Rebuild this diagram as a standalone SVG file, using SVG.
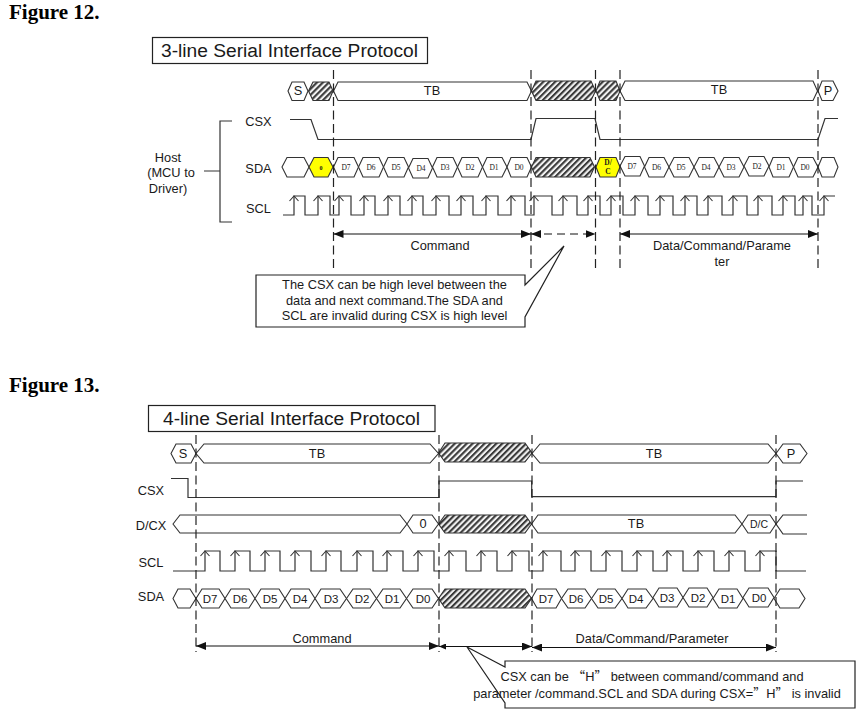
<svg xmlns="http://www.w3.org/2000/svg" width="863" height="716" viewBox="0 0 863 716">
<style>
text{font-family:"Liberation Sans",Arial,sans-serif;font-size:12.800px;fill:#1a1a1a;text-anchor:middle}
.w{fill:none;stroke:#333;stroke-width:1.2}
.h{fill:#fff;stroke:#333;stroke-width:1.1}
.y{fill:#ffff00;stroke:#333;stroke-width:1.1}
.x{fill:url(#hatch);stroke:#333;stroke-width:1.1}
.d{fill:none;stroke:#222;stroke-width:1.2;stroke-dasharray:9 4.500}
.a{fill:none;stroke:#111;stroke-width:1.2}
.b{fill:#fff;stroke:#222;stroke-width:1.2}
.fig{font-family:"Liberation Serif",serif;font-weight:bold;font-size:21px;text-anchor:start;fill:#000}
.t{font-size:19.200px}
.s{font-family:"Liberation Serif",serif;font-size:7.500px}
.m{font-size:11.500px}
.q{font-family:"Noto Sans CJK SC",sans-serif}
</style>
<defs>
<pattern id="hatch" width="4.2" height="4.2" patternUnits="userSpaceOnUse" patternTransform="rotate(45)"><rect width="4.2" height="4.2" fill="#f2f2f2"/><rect width="2.1" height="4.2" fill="#3a3a3a"/></pattern>
<path id="chev" d="M-4.500 5L0 0L4.500 5" fill="none" stroke="#333" stroke-width="1.1"/>
<marker id="ae" markerWidth="11" markerHeight="8" refX="10" refY="4" orient="auto-start-reverse" markerUnits="userSpaceOnUse"><path d="M0 0L10 4L0 8Z" fill="#111"/></marker>
<marker id="as" markerWidth="8" markerHeight="6" refX="7" refY="3" orient="auto-start-reverse" markerUnits="userSpaceOnUse"><path d="M0 0L7 3L0 6Z" fill="#111"/></marker>
</defs>
<rect width="863" height="716" fill="#fff"/>
<text class="fig" x="9" y="19">Figure 12.</text>
<text class="fig" x="9" y="392">Figure 13.</text>

<g id="fig12-title"><rect class="b" x="152.500" y="37.500" width="275" height="26"/><text class="t" x="289.500" y="56.500">3-line Serial Interface Protocol</text></g>
<g id="fig12-host"><text x="168" y="162">Host</text><text x="171" y="177">(MCU to</text><text x="168" y="193">Driver)</text><path class="w" d="M204 171H220M232 121H220V222H232"/></g>
<g id="fig12-labels"><text x="258.500" y="126">CSX</text><text x="258.500" y="173">SDA</text><text x="258.500" y="213">SCL</text></g>

<g id="fig12-row1">
<path class="h" d="M288 91L292 82H304L308 91L304 100.500H292Z"/><text x="298" y="95">S</text>
<path class="x" d="M308.500 91L313 82H329L333 91L329 100.500H313Z"/>
<path class="h" d="M333.500 91L338 82H527L531.500 91L527 100.500H338Z"/><text x="432" y="95">TB</text>
<path class="x" d="M531.500 91L536 81H591L595.500 91L591 100.500H536Z"/>
<path class="x" d="M596 91L600 81H616L620 91L616 100.500H600Z"/>
<path class="h" d="M620 91L625 81H813L817.500 91L813 100.500H625Z"/><text x="719" y="94">TB</text>
<path class="h" d="M818 91L822 81H833L838 91L833 100.500H822Z"/><text x="828" y="95">P</text>
</g>
<g id="fig12-csx"><path class="w" d="M290 119.500H311L318 139.500H531L536 118.500H595L600 139.500H818L825 118.500H838"/></g>
<g id="fig12-sda">
<path class="h" d="M282 167L287 157.500H304L309 167L304 177H287Z"/>
<path class="y" d="M309 167L314 157.500H328L333 167L328 177H314Z"/><text class="s" x="321" y="170" style="font-size:6px;font-weight:bold">0</text>
<path class="h" d="M333.500 167L338 157.500H354L358.500 167L354 177H338Z"/><text class="s" x="346" y="170">D7</text>
<path class="h" d="M358.500 167L363 157.500H379L383.500 167L379 177H363Z"/><text class="s" x="371" y="170">D6</text>
<path class="h" d="M383.500 167L388 157.500H404L408.500 167L404 177H388Z"/><text class="s" x="396" y="170">D5</text>
<path class="h" d="M408.500 168L413 158.500H428L432.500 168L428 178H413Z"/><text class="s" x="421" y="171">D4</text>
<path class="h" d="M432.500 167L437 157.500H453L457.500 167L453 177H437Z"/><text class="s" x="445" y="170">D3</text>
<path class="h" d="M457.500 167L462 157.500H478L482.500 167L478 177H462Z"/><text class="s" x="470" y="170">D2</text>
<path class="h" d="M482.500 167L487 157.500H502L507 167L502 177H487Z"/><text class="s" x="494" y="170">D1</text>
<path class="h" d="M507 167L511 157.500H527L531.500 167L527 177H511Z"/><text class="s" x="519" y="170">D0</text>
<path class="x" d="M531.500 167L536 157.500H590L594.500 167L590 177H536Z"/>
<path class="y" d="M596 167L600 157.500H616L620 167L616 177H600Z"/><text class="s" x="608" y="165" style="font-weight:bold">D/</text><text class="s" x="608" y="174" style="font-weight:bold">C</text>
<path class="h" d="M620 166L625 156.500H640L644.500 166L640 176H625Z"/><text class="s" x="632" y="169">D7</text>
<path class="h" d="M644.500 167L649 157.500H664L669 167L664 177H649Z"/><text class="s" x="656.500" y="170">D6</text>
<path class="h" d="M669 167L674 157.500H689L694 167L689 177H674Z"/><text class="s" x="681" y="170">D5</text>
<path class="h" d="M694 167L699 157.500H714L719 167L714 177H699Z"/><text class="s" x="706" y="170">D4</text>
<path class="h" d="M719 167L724 157.500H739L744 167L739 177H724Z"/><text class="s" x="731" y="170">D3</text>
<path class="h" d="M744 166L749 156.500H764L769 166L764 176H749Z"/><text class="s" x="757" y="169">D2</text>
<path class="h" d="M769 167L773 157.500H789L793.500 167L789 177H773Z"/><text class="s" x="781" y="170">D1</text>
<path class="h" d="M793.500 167L798 157.500H813L818 167L813 177H798Z"/><text class="s" x="805" y="170">D0</text>
<path class="h" d="M818 167L822 157.500H834L838 167L834 177H822Z"/>
</g>
<g id="fig12-scl"><path class="w" d="M283 215H294V196H305V215H318V196H330V215H339V196H351V215H364V196H375V215H388V196H400V215H412V196H423V215H436V196H449V215H461V196H473V215H486V196H498V215H511V196H525V215H534V196H552V215H563V196H577V215H588V196H600V215H611V196H623V215H635V196H648V215H660V196H673V215H685V196H697V215H708V196H722V215H733V196H747V215H758V196H772V215H783V196H795V215H803V196H812V215H824V196H835"/>
<use href="#chev" x="294" y="196"/><use href="#chev" x="318" y="196"/><use href="#chev" x="339" y="196"/><use href="#chev" x="364" y="196"/><use href="#chev" x="388" y="196"/><use href="#chev" x="412" y="196"/><use href="#chev" x="436" y="196"/><use href="#chev" x="461" y="196"/><use href="#chev" x="486" y="196"/><use href="#chev" x="511" y="196"/><use href="#chev" x="534" y="196"/><use href="#chev" x="563" y="196"/><use href="#chev" x="588" y="196"/><use href="#chev" x="611" y="196"/><use href="#chev" x="635" y="196"/><use href="#chev" x="660" y="196"/><use href="#chev" x="685" y="196"/><use href="#chev" x="708" y="196"/><use href="#chev" x="733" y="196"/><use href="#chev" x="758" y="196"/><use href="#chev" x="783" y="196"/><use href="#chev" x="803" y="196"/><use href="#chev" x="824" y="196"/></g>
<g id="fig12-connectors">
<path class="d" d="M333.500 70V271M531 70V271M595.500 70V271M620 70V271M818 70V271"/>
<path class="a" d="M333.500 234H531" marker-start="url(#ae)" marker-end="url(#ae)"/>
<path class="a" d="M531 234H595.500" stroke-dasharray="8 5" marker-start="url(#ae)" marker-end="url(#ae)"/>
<path class="a" d="M620 234H818" marker-start="url(#ae)" marker-end="url(#ae)"/>
</g>
<g id="fig12-arrow-labels"><text x="440" y="249.500">Command</text><text x="722" y="249.500">Data/Command/Parame</text><text x="722" y="265.500">ter</text></g>
<g id="fig12-callout"><path class="b" d="M256 275H525V285L564 246L525 317V327H256Z"/><text x="394.500" y="289">The CSX can be high level between the</text><text x="394.500" y="304.500">data and next command.The SDA and</text><text x="394.500" y="320">SCL are invalid during CSX is high level</text></g>

<g id="fig13-title"><rect class="b" x="148.500" y="405.500" width="286.500" height="26"/><text class="t" x="291.500" y="424.500">4-line Serial Interface Protocol</text></g>
<g id="fig13-labels"><text x="151" y="494.500">CSX</text><text x="151" y="529.500">D/CX</text><text x="151" y="566.500">SCL</text><text x="151" y="601">SDA</text></g>
<g id="fig13-row1">
<path class="h" d="M171 453.500L176 444H191L196 453.500L191 463H176Z"/><text x="183" y="457.500">S</text>
<path class="h" d="M196 453.500L204 444H430L438.500 453.500L430 463H204Z"/><text x="317" y="457.500">TB</text>
<path class="x" d="M438.500 453L445 443H525L532 453L525 462H445Z"/>
<path class="h" d="M532 453.500L540 444H768L776 453.500L768 463H540Z"/><text x="654" y="457.500">TB</text>
<path class="h" d="M776 453.500L783 444H800L807 453.500L800 463H783Z"/><text x="791" y="457.500">P</text>
</g>
<g id="fig13-csx"><path class="w" d="M171 478.500H188V497.500H439V481H531.700V496.700H776V481H803"/></g>
<g id="fig13-dcx">
<path class="h" d="M173 524L180 515H400L407 524L400 533H180Z"/>
<path class="h" d="M407 524L413 515H432L438.500 524L432 533H413Z"/><text x="423" y="528">0</text>
<path class="x" d="M438.500 524L445 515H525L531.500 524L525 533H445Z"/>
<path class="h" d="M531.500 524L538 515H735L742 524L735 533H538Z"/><text x="636" y="528">TB</text>
<path class="h" d="M742 524L748 515H770L776 524L770 533H748Z"/><text x="759" y="528" style="font-size:10.500px">D/C</text>
<path class="w" d="M807 515H783L776 524L783 534H807"/>
</g>
<g id="fig13-scl"><path class="w" d="M173 571H205V551H220V571H235V551H250V571H265V551H280V571H295V551H311V571H326V551H341V571H357V551H373V571H387V551H403V571H418V551H434V571H449V551H466V571H481V551H497V571H512V551H529V571H543V551H561V571H575V551H591V571H606V551H622V571H637V551H653V571H667V551H683V571H698V551H714V571H729V551H745V571H760V551H776V571H806"/>
<use href="#chev" x="205" y="551"/><use href="#chev" x="235" y="551"/><use href="#chev" x="265" y="551"/><use href="#chev" x="295" y="551"/><use href="#chev" x="326" y="551"/><use href="#chev" x="357" y="551"/><use href="#chev" x="387" y="551"/><use href="#chev" x="418" y="551"/><use href="#chev" x="449" y="551"/><use href="#chev" x="481" y="551"/><use href="#chev" x="512" y="551"/><use href="#chev" x="543" y="551"/><use href="#chev" x="575" y="551"/><use href="#chev" x="606" y="551"/><use href="#chev" x="637" y="551"/><use href="#chev" x="667" y="551"/><use href="#chev" x="698" y="551"/><use href="#chev" x="729" y="551"/><use href="#chev" x="760" y="551"/></g>
<g id="fig13-sda">
<path class="h" d="M173 598.500L178 589H190L196 598.500L190 608H178Z"/>
<path class="h" d="M196 598.500L202 589H219L225 598.500L219 608H202Z"/><text class="m" x="210" y="602.500">D7</text>
<path class="h" d="M225 598.500L231 589H249L255 598.500L249 608H231Z"/><text class="m" x="240" y="602.500">D6</text>
<path class="h" d="M255 598.500L261 589H279L285 598.500L279 608H261Z"/><text class="m" x="270" y="602.500">D5</text>
<path class="h" d="M285 598.500L291 589H309L315 598.500L309 608H291Z"/><text class="m" x="300" y="602.500">D4</text>
<path class="h" d="M315 598.500L321 589H340L346.500 598.500L340 608H321Z"/><text class="m" x="331" y="602.500">D3</text>
<path class="h" d="M346.500 598.500L353 589H370L376.500 598.500L370 608H353Z"/><text class="m" x="362" y="602.500">D2</text>
<path class="h" d="M376.500 598.500L383 589H400L406.500 598.500L400 608H383Z"/><text class="m" x="392" y="602.500">D1</text>
<path class="h" d="M406.500 598.500L413 589H432L438.500 598.500L432 608H413Z"/><text class="m" x="423" y="602.500">D0</text>
<path class="x" d="M438.500 598.500L445 589H525L531.500 598.500L525 608H445Z"/>
<path class="h" d="M531.500 598.500L537 589H556L561.500 598.500L556 608H537Z"/><text class="m" x="546" y="602.500">D7</text>
<path class="h" d="M561.500 598.500L568 589H585L591.500 598.500L585 608H568Z"/><text class="m" x="576" y="602.500">D6</text>
<path class="h" d="M591.500 598.500L598 589H615L622 598.500L615 608H598Z"/><text class="m" x="606" y="602.500">D5</text>
<path class="h" d="M622 598.500L628 589H646L653 598.500L646 608H628Z"/><text class="m" x="636" y="602.500">D4</text>
<path class="h" d="M653 597.500L659 588H677L683 597.500L677 607H659Z"/><text class="m" x="667" y="601.500">D3</text>
<path class="h" d="M683 597.500L689 588H707L713 597.500L707 607H689Z"/><text class="m" x="698" y="601.500">D2</text>
<path class="h" d="M713 598.500L719 589H737L743 598.500L737 608H719Z"/><text class="m" x="728" y="602.500">D1</text>
<path class="h" d="M743 597.500L749 588H768L774 597.500L768 607H749Z"/><text class="m" x="759" y="601.500">D0</text>
<path class="h" d="M774 598.500L780 589H799L805 598.500L799 608H780Z"/>
</g>
<g id="fig13-connectors">
<path class="d" d="M196 435V652M439 435V652M532 435V652M776 435V652"/>
<path class="a" d="M196 646H439" marker-start="url(#ae)" marker-end="url(#ae)"/>
<path class="a" d="M439 646.500H532" marker-start="url(#as)" marker-end="url(#ae)"/>
<path class="a" d="M532 647.500H776" marker-start="url(#ae)" marker-end="url(#ae)"/>
</g>
<g id="fig13-arrow-labels"><text x="322" y="642.500">Command</text><text x="652" y="642.500">Data/Command/Parameter</text></g>
<g id="fig13-callout"><path class="b" d="M855 661H505V667L467 647L505 703V708H855Z"/><text x="652" y="681">CSX can be <tspan class="q">“</tspan>H<tspan class="q">”</tspan> between command/command and</text><text x="657" y="698">parameter /command.SCL and SDA during CSX=<tspan class="q">”</tspan>H<tspan class="q">”</tspan> is invalid</text></g>
</svg>
